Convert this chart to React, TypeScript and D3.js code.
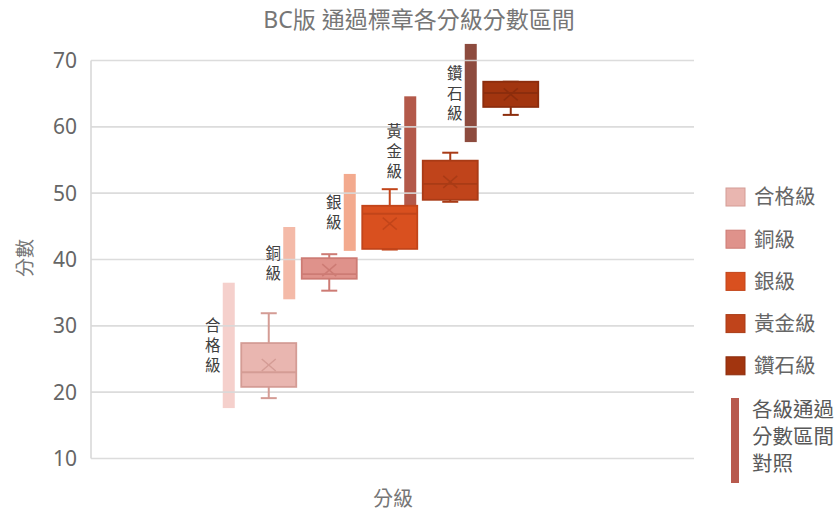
import React from 'react';
import * as d3 from 'd3';

// badge levels and box-plot stats
const levels = ['合格級', '銅級', '銀級', '黃金級', '鑽石級'];
const boxMin = [19.1, 35.3, 41.5, 48.7, 61.8];
const boxQ1 = [20.8, 37.1, 41.6, 49.0, 63.0];
const boxMedian = [23.0, 37.8, 46.9, 51.4, 65.1];
const boxQ3 = [27.4, 40.2, 48.1, 54.9, 66.8];
const boxMax = [31.9, 40.8, 50.6, 56.1, 66.8];
const boxMean = [24.1, 38.4, 45.4, 51.7, 64.9];

// pass score range per level
const passLow = [17.6, 34.0, 41.3, 47.9, 57.7];
const passHigh = [36.5, 44.9, 52.9, 64.6, 72.5];

const yTicks = [10, 20, 30, 40, 50, 60, 70];
const legendNote = ['各級通過', '分數區間', '對照'];

const boxFill = ['#e9b6b0', '#df928b', '#d9501f', '#c0441b', '#a2350f'];
const boxStroke = ['#d49c95', '#cd7b74', '#c2451a', '#a93b16', '#8c2d0d'];
const rangeFill = ['#f5d0cc', '#f4baa8', '#f3aa8e', '#b3594a', '#8d4b3e'];

const FONT = "'Noto Sans', 'Noto Sans CJK TC', sans-serif";

const App: React.FC = () => {
    const width = 838;
    const height = 512;

    const y = d3.scaleLinear().domain([10, 70]).range([458.5, 60.5]);
    const x = d3.scaleBand().domain(levels).range([238.5, 541]).paddingInner(0);
    const boxW = 55;
    const capW = 16;
    const rangeW = 12;
    const rangeOffset = -40;
    const plotLeft = 91;
    const plotRight = 694;

    const center = (i: number) => (x(levels[i]) || 0) + x.bandwidth() / 2;

    return (
        <svg width={width} height={height} style={{ position: 'absolute', left: 0, top: 0, background: '#fff' }}>
            <text x={419} y={28} textAnchor="middle" fontSize={23} fill="#767676" fontFamily={FONT}>
                BC版 通過標章各分級分數區間
            </text>

            {/* pass-range bars */}
            {levels.map((lv, i) => (
                <rect key={'r' + lv}
                    x={center(i) + rangeOffset - rangeW / 2}
                    y={y(passHigh[i])}
                    width={rangeW}
                    height={y(passLow[i]) - y(passHigh[i])}
                    fill={rangeFill[i]} />
            ))}

            {/* gridlines */}
            {yTicks.map(t => (
                <line key={'g' + t} x1={plotLeft} x2={plotRight} y1={y(t)} y2={y(t)}
                    stroke="#d9d9d9" strokeWidth={1.6} opacity={0.9} />
            ))}
            <line x1={plotLeft} x2={plotLeft} y1={y(70)} y2={y(10)} stroke="#d9d9d9" strokeWidth={1.6} />

            {yTicks.map(t => (
                <text key={'t' + t} x={77} y={y(t)} dy="0.35em" textAnchor="end"
                    fontSize={21} fill="#666" fontFamily={FONT}>{t}</text>
            ))}

            <text transform={`translate(25, 258) rotate(-90)`} textAnchor="middle" dy="0.35em"
                fontSize={19} fill="#767676" fontFamily={FONT}>分數</text>
            <text x={393} y={499} textAnchor="middle" dy="0.35em" fontSize={20} fill="#767676" fontFamily={FONT}>分級</text>

            {/* vertical level labels next to range bars */}
            {levels.map((lv, i) => {
                const chars = lv.split('');
                const mid = y((passLow[i] + passHigh[i]) / 2);
                const step = 20;
                const start = mid - (step * (chars.length - 1)) / 2;
                return chars.map((c, k) => (
                    <text key={'l' + lv + k} x={center(i) - 56} y={start + k * step} dy="0.36em"
                        textAnchor="middle" fontSize={15.5} fill="#404040" fontFamily={FONT}>{c}</text>
                ));
            })}

            {/* box plots */}
            {levels.map((lv, i) => {
                const cx = center(i);
                const st = boxStroke[i];
                const my = y(boxMean[i]);
                const m = 7;
                return (
                    <g key={'b' + lv}>
                        <line x1={cx} x2={cx} y1={y(boxMax[i])} y2={y(boxQ3[i])} stroke={st} strokeWidth={2} />
                        <line x1={cx} x2={cx} y1={y(boxQ1[i])} y2={y(boxMin[i])} stroke={st} strokeWidth={2} />
                        <line x1={cx - capW / 2} x2={cx + capW / 2} y1={y(boxMax[i])} y2={y(boxMax[i])} stroke={st} strokeWidth={2} />
                        <line x1={cx - capW / 2} x2={cx + capW / 2} y1={y(boxMin[i])} y2={y(boxMin[i])} stroke={st} strokeWidth={2} />
                        <rect x={cx - boxW / 2} y={y(boxQ3[i])} width={boxW} height={y(boxQ1[i]) - y(boxQ3[i])}
                            fill={boxFill[i]} stroke={st} strokeWidth={1.8} />
                        <line x1={cx - boxW / 2} x2={cx + boxW / 2} y1={y(boxMedian[i])} y2={y(boxMedian[i])} stroke={st} strokeWidth={1.8} />
                        <line x1={cx - m} x2={cx + m} y1={my - 6} y2={my + 6} stroke={st} strokeWidth={1.5} />
                        <line x1={cx - m} x2={cx + m} y1={my + 6} y2={my - 6} stroke={st} strokeWidth={1.5} />
                    </g>
                );
            })}

            {/* legend */}
            {levels.map((lv, i) => (
                <g key={'lg' + lv} transform={`translate(726, ${197 + i * 42.2})`}>
                    <rect x={0} y={-9} width={19} height={18} fill={boxFill[i]} stroke={boxStroke[i]} strokeWidth={1} />
                    <text x={28} y={0} dy="0.36em" fontSize={20.5} fill="#666" fontFamily={FONT}>{lv}</text>
                </g>
            ))}
            <rect x={731} y={398} width={8} height={85} fill="#b85a4e" />
            {legendNote.map((s, k) => (
                <text key={'n' + k} x={752} y={410 + k * 27} dy="0.36em" fontSize={20.5} fill="#595959" fontFamily={FONT}>{s}</text>
            ))}
        </svg>
    );
};

export default App;
